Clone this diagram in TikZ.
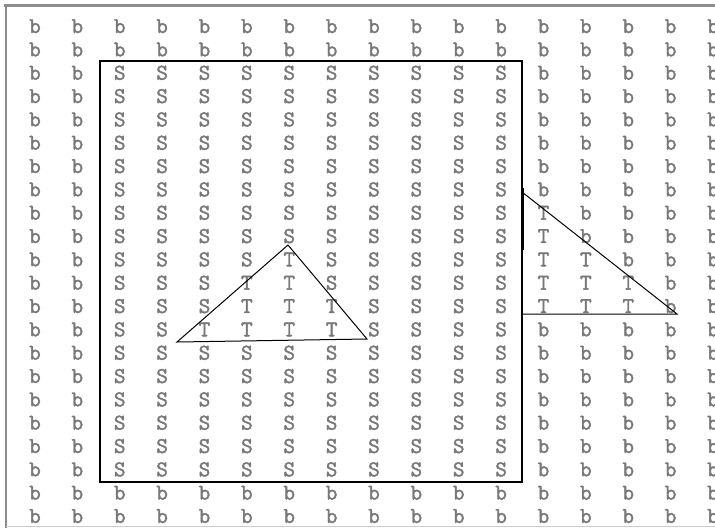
\documentclass[tikz,border=0pt]{standalone}
\usepackage{fontspec}
\newfontfamily\gridfont[FakeBold=1.8]{Latin Modern Mono}
\definecolor{lettergray}{RGB}{120,120,120}
\definecolor{framegray}{RGB}{140,140,140}
\begin{document}
\begin{tikzpicture}[x=1pt,y=1pt,
  ltr/.style={anchor=base,inner sep=0pt,text=lettergray,font=\gridfont\fontsize{22.5}{22.5}\selectfont},
  shapeline/.style={draw=black,line width=1.3pt,line join=miter}]
\useasboundingbox[fill=white] (0,0) rectangle (715,-528);
% frame
\draw[framegray,line width=3pt] (4,-5) -- (715,-5);
\draw[framegray,line width=2pt] (6,-4) -- (6,-528);
\draw[black!20,line width=1pt] (6,-526) -- (715,-526);
% letter grid
\foreach \rowlist [count=\j from 0] in {
 {b,b,b,b,b,b,b,b,b,b,b,b,b,b,b,b,b},
 {b,b,b,b,b,b,b,b,b,b,b,b,b,b,b,b,b},
 {b,b,S,S,S,S,S,S,S,S,S,S,b,b,b,b,b},
 {b,b,S,S,S,S,S,S,S,S,S,S,b,b,b,b,b},
 {b,b,S,S,S,S,S,S,S,S,S,S,b,b,b,b,b},
 {b,b,S,S,S,S,S,S,S,S,S,S,b,b,b,b,b},
 {b,b,S,S,S,S,S,S,S,S,S,S,b,b,b,b,b},
 {b,b,S,S,S,S,S,S,S,S,S,S,b,b,b,b,b},
 {b,b,S,S,S,S,S,S,S,S,S,S,T,b,b,b,b},
 {b,b,S,S,S,S,S,S,S,S,S,S,T,b,b,b,b},
 {b,b,S,S,S,S,T,S,S,S,S,S,T,T,b,b,b},
 {b,b,S,S,S,T,T,S,S,S,S,S,T,T,T,b,b},
 {b,b,S,S,S,T,T,T,S,S,S,S,T,T,T,b,b},
 {b,b,S,S,T,T,T,T,S,S,S,S,b,b,b,b,b},
 {b,b,S,S,S,S,S,S,S,S,S,S,b,b,b,b,b},
 {b,b,S,S,S,S,S,S,S,S,S,S,b,b,b,b,b},
 {b,b,S,S,S,S,S,S,S,S,S,S,b,b,b,b,b},
 {b,b,S,S,S,S,S,S,S,S,S,S,b,b,b,b,b},
 {b,b,S,S,S,S,S,S,S,S,S,S,b,b,b,b,b},
 {b,b,S,S,S,S,S,S,S,S,S,S,b,b,b,b,b},
 {b,b,b,b,b,b,b,b,b,b,b,b,b,b,b,b,b},
 {b,b,b,b,b,b,b,b,b,b,b,b,b,b,b,b,b}}{
  \foreach \ch [count=\i from 0] in \rowlist {
    \node[ltr] (c-\i-\j) at ({35+42.375*\i},{-(26+23.33*\j)-7}) {\ch};
  }
}
% rectangle
\coordinate (rtl) at (100,-61);
\coordinate (rbr) at (522,-482);
\draw[shapeline] (rtl) rectangle (rbr);
% left triangle
\coordinate (la) at (177,-342);
\coordinate (lb) at (288,-245);
\coordinate (lc) at (367,-339);
\draw[shapeline,line width=1pt] (la) -- (lb) -- (lc) -- cycle;
% right triangle
\coordinate (ra) at (522,-192);
\coordinate (rb) at (677,-314);
\coordinate (rc) at (522,-314);
\draw[shapeline,line width=1pt] (ra) -- (rb) -- (rc) -- cycle;
\coordinate (tk1) at (522,-188);
\coordinate (tk2) at (522,-250);
\draw[black,line width=3pt] (tk1) -- (tk2);
\end{tikzpicture}
\end{document}
